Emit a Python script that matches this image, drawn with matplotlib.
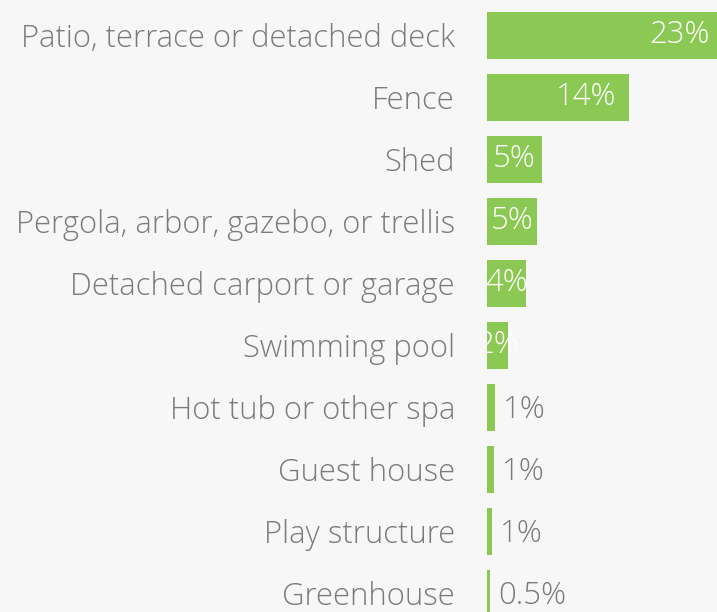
import matplotlib
matplotlib.use("Agg")
import matplotlib.pyplot as plt

# data
categories = ["Patio, terrace or detached deck", "Fence", "Shed",
              "Pergola, arbor, gazebo, or trellis", "Detached carport or garage",
              "Swimming pool", "Hot tub or other spa", "Guest house",
              "Play structure", "Greenhouse"]
values = [23.2, 14.0, 5.4, 4.9, 3.8, 2.1, 0.8, 0.7, 0.5, 0.3]
value_labels = ["23%", "14%", "5%", "5%", "4%", "2%", "1%", "1%", "1%", "0.5%"]

GREEN = "#8cc954"
BG = "#f7f7f7"
GRAY = "#7b7b7b"

plt.rcParams["font.family"] = ["Open Sans", "DejaVu Sans"]
FS = 22.3
WT = "light"

fig = plt.figure(figsize=(7.17, 6.12), dpi=100, facecolor=BG)
ax = fig.add_axes([487 / 717, 0, 230 / 717, 1])
ax.set_facecolor(BG)

# ~10.14 px per percent, bar rows 62 px apart
px_per_unit = 10.14
ax.set_xlim(0, 230 / px_per_unit)
ax.set_ylim((612 - 35.5) / 62, -35.5 / 62)

ypos = list(range(len(categories)))
ax.barh(ypos, values, height=47 / 62, color=GREEN, edgecolor="none")

ax.set_yticks(ypos)
ax.set_yticklabels(categories, fontsize=FS, color=GRAY, fontweight=WT,
                   va="center_baseline")
ax.tick_params(axis="y", length=0, pad=23)
ax.set_xticks([])
for s in ax.spines.values():
    s.set_visible(False)

# value labels: inside (white) for bigger bars, outside (gray) for tiny ones
for i, (v, lab) in enumerate(zip(values, value_labels)):
    if v >= 10:
        ax.annotate(lab, (v, i), xytext=(-9, 0), textcoords="offset points",
                    ha="right", va="center", color="white", fontsize=FS,
                    fontweight=WT, annotation_clip=False)
    elif v >= 2:
        ax.text(v / 2, i, lab, ha="center", va="center", color="white",
                fontsize=FS, fontweight=WT, clip_on=False)
    else:
        ax.annotate(lab, (v, i), xytext=(6, -1.5), textcoords="offset points",
                    ha="left", va="center", color=GRAY, fontsize=FS,
                    fontweight=WT)

fig.savefig("out.png", dpi=100, facecolor=BG)
